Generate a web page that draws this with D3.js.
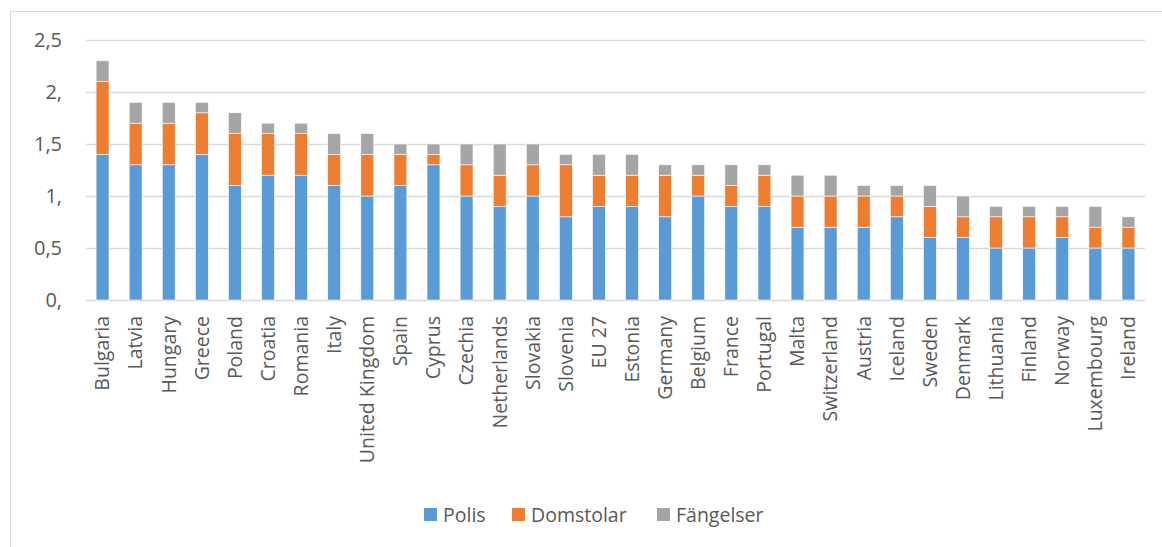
<!DOCTYPE html>
<html>
<head>
<meta charset="utf-8">
<script src="https://cdn.jsdelivr.net/npm/d3@7"></script>
<style>
  body { margin: 0; background: #fff; }
  svg { font-family: "Open Sans", Lato, sans-serif; }
</style>
</head>
<body>
<svg id="chart" width="1162" height="547"></svg>
<script>
// data
const countries = ["Bulgaria", "Latvia", "Hungary", "Greece", "Poland", "Croatia", "Romania", "Italy",
  "United Kingdom", "Spain", "Cyprus", "Czechia", "Netherlands", "Slovakia", "Slovenia", "EU 27",
  "Estonia", "Germany", "Belgium", "France", "Portugal", "Malta", "Switzerland", "Austria",
  "Iceland", "Sweden", "Denmark", "Lithuania", "Finland", "Norway", "Luxembourg", "Ireland"];
const polis = [1.4, 1.3, 1.3, 1.4, 1.1, 1.2, 1.2, 1.1, 1.0, 1.1, 1.3, 1.0, 0.9, 1.0, 0.8, 0.9,
  0.9, 0.8, 1.0, 0.9, 0.9, 0.7, 0.7, 0.7, 0.8, 0.6, 0.6, 0.5, 0.5, 0.6, 0.5, 0.5];
const domstolar = [0.7, 0.4, 0.4, 0.4, 0.5, 0.4, 0.4, 0.3, 0.4, 0.3, 0.1, 0.3, 0.3, 0.3, 0.5, 0.3,
  0.3, 0.4, 0.2, 0.2, 0.3, 0.3, 0.3, 0.3, 0.2, 0.3, 0.2, 0.3, 0.3, 0.2, 0.2, 0.2];
const fangelser = [0.2, 0.2, 0.2, 0.1, 0.2, 0.1, 0.1, 0.2, 0.2, 0.1, 0.1, 0.2, 0.3, 0.2, 0.1, 0.2,
  0.2, 0.1, 0.1, 0.2, 0.1, 0.2, 0.2, 0.1, 0.1, 0.2, 0.2, 0.1, 0.1, 0.1, 0.2, 0.1];
const seriesNames = ["Polis", "Domstolar", "Fängelser"];
const colors = ["#5b9bd5", "#ed7d31", "#a5a5a5"];
const yTicks = [0, 0.5, 1, 1.5, 2, 2.5];
const tickLabels = ["0,", "0,5", "1,", "1,5", "2,", "2,5"];

const svg = d3.select("#chart");
const margin = {left: 86, right: 17, top: 40, bottom: 247};
const W = 1162, H = 547;

// outer chart border
svg.append("rect")
    .attr("x", 10.5).attr("y", 11.5)
    .attr("width", W).attr("height", H)
    .attr("fill", "none").attr("stroke", "#d9d9d9");

const rows = countries.map((c, i) => ({country: c, Polis: polis[i], Domstolar: domstolar[i], "Fängelser": fangelser[i]}));
const stacked = d3.stack().keys(seriesNames)(rows);

const x = d3.scaleBand().domain(countries)
    .range([margin.left, W - margin.right])
    .paddingInner(0.61).paddingOuter(0.305);
const y = d3.scaleLinear().domain([0, 2.5]).range([H - margin.bottom, margin.top]);

// gridlines
svg.append("g").selectAll("line").data(yTicks).join("line")
    .attr("x1", margin.left).attr("x2", W - margin.right)
    .attr("y1", d => Math.round(y(d)) + 0.5).attr("y2", d => Math.round(y(d)) + 0.5)
    .attr("stroke", "#d9d9d9").attr("stroke-width", 1.5);

// y tick labels
svg.append("g").selectAll("text").data(yTicks).join("text")
    .attr("x", 62).attr("y", d => y(d))
    .attr("dy", "0.35em")
    .attr("text-anchor", "end")
    .attr("font-size", 20).attr("fill", "#595959")
    .text((d, i) => tickLabels[i]);

// bars
svg.append("g").selectAll("g").data(stacked).join("g")
    .attr("fill", (d, i) => colors[i])
    .selectAll("rect").data(d => d).join("rect")
    .attr("x", d => x(d.data.country))
    .attr("width", x.bandwidth())
    .attr("y", d => y(d[1]))
    .attr("height", d => y(d[0]) - y(d[1]))
    .attr("stroke", "#fff").attr("stroke-width", 0.6);

// category labels
svg.append("g").selectAll("text").data(countries).join("text")
    .attr("transform", d => `translate(${x(d) + x.bandwidth() / 2},316) rotate(-90)`)
    .attr("dy", "0.35em")
    .attr("text-anchor", "end")
    .attr("font-size", 19.5).attr("fill", "#595959")
    .text(d => d);

// legend
const legendX = [424, 512, 657];
const legend = svg.append("g").selectAll("g").data(seriesNames).join("g")
    .attr("transform", (d, i) => `translate(${legendX[i]},515)`);
legend.append("rect")
    .attr("x", 0).attr("y", -7).attr("width", 13).attr("height", 13)
    .attr("fill", (d, i) => colors[i]);
legend.append("text")
    .attr("x", 19).attr("dy", "0.35em")
    .attr("font-size", 19.5).attr("fill", "#595959")
    .text(d => d);
</script>
</body>
</html>
